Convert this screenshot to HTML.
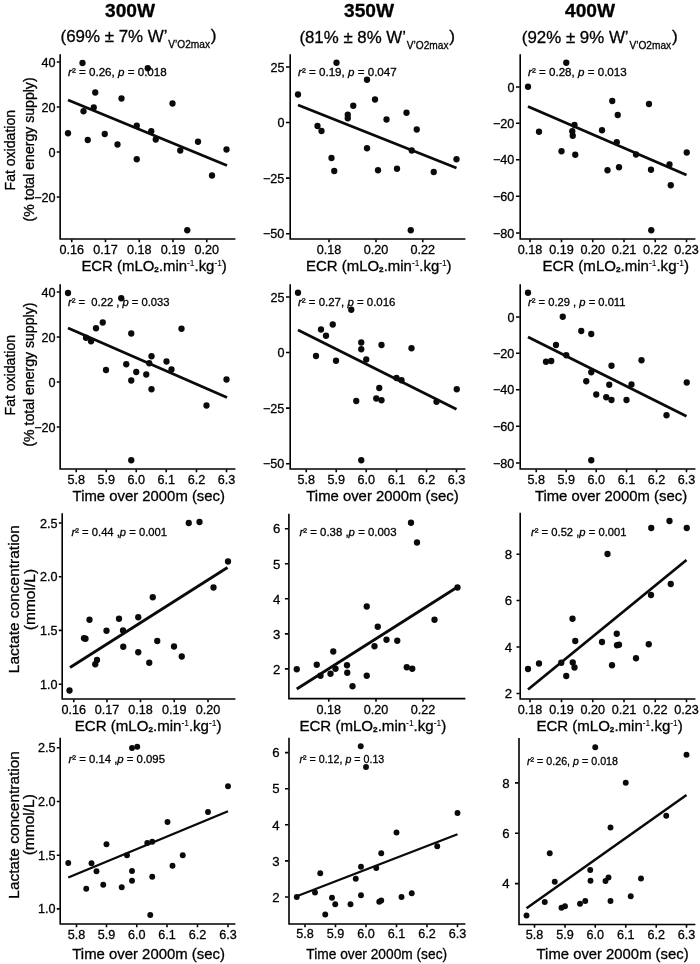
<!DOCTYPE html>
<html lang="en">
<head>
<meta charset="utf-8">
<title>Figure</title>
<style>
html,body{margin:0;padding:0;background:#fff;}
svg{display:block;filter:grayscale(1);}
text{font-family:"Liberation Sans", Arial, sans-serif;fill:#000;stroke:#000;stroke-width:0.3px;}
.tk{font-size:12.6px;}
.an{font-size:11.7px;}
.xl{font-size:14.7px;}
.ax{stroke:#000;stroke-width:1.6;fill:none;stroke-linecap:square;}
.t{stroke:#000;stroke-width:1.6;fill:none;}
.rl{stroke:#0a0a0a;fill:none;stroke-linecap:butt;}
circle{fill:#0a0a0a;}
</style>
</head>
<body>
<svg width="700" height="964" viewBox="0 0 700 964">
<rect width="700" height="964" fill="#fff"/>
<g id="headers">
<text x="130" y="16.7" text-anchor="middle" font-size="18" font-weight="bold" textLength="50" lengthAdjust="spacingAndGlyphs">300W</text>
<text x="60.5" y="42.0" font-size="17.3" textLength="107.0" lengthAdjust="spacingAndGlyphs">(69% ± 7% W’</text>
<text x="168.3" y="47.6" font-size="10.8" textLength="41.7" lengthAdjust="spacingAndGlyphs">V’O2max</text>
<text x="210.8" y="41.3" font-size="17.3">)</text>
<text x="369" y="17.3" text-anchor="middle" font-size="18" font-weight="bold" textLength="50" lengthAdjust="spacingAndGlyphs">350W</text>
<text x="299.4" y="43.1" font-size="17.3" textLength="106.6" lengthAdjust="spacingAndGlyphs">(81% ± 8% W’</text>
<text x="406.8" y="48.7" font-size="10.8" textLength="41.7" lengthAdjust="spacingAndGlyphs">V’O2max</text>
<text x="449.3" y="42.4" font-size="17.3">)</text>
<text x="590" y="17.2" text-anchor="middle" font-size="18" font-weight="bold" textLength="50" lengthAdjust="spacingAndGlyphs">400W</text>
<text x="521.8" y="42.9" font-size="17.3" textLength="106.8" lengthAdjust="spacingAndGlyphs">(92% ± 9% W’</text>
<text x="629.4" y="48.5" font-size="10.8" textLength="41.7" lengthAdjust="spacingAndGlyphs">V’O2max</text>
<text x="671.9" y="42.2" font-size="17.3">)</text>
</g>
<g id="ylabels">
<text transform="translate(15 150.2) rotate(-90)" text-anchor="middle" font-size="14.6" textLength="80.5" lengthAdjust="spacingAndGlyphs">Fat oxidation</text>
<text transform="translate(34.3 149.4) rotate(-90)" text-anchor="middle" font-size="14.6" textLength="144" lengthAdjust="spacingAndGlyphs">(% total energy supply)</text>
<text transform="translate(15 375.2) rotate(-90)" text-anchor="middle" font-size="14.6" textLength="80.5" lengthAdjust="spacingAndGlyphs">Fat oxidation</text>
<text transform="translate(34.3 374.6) rotate(-90)" text-anchor="middle" font-size="14.6" textLength="144" lengthAdjust="spacingAndGlyphs">(% total energy supply)</text>
<text transform="translate(19.3 599.2) rotate(-90)" text-anchor="middle" font-size="15.5" textLength="148" lengthAdjust="spacingAndGlyphs">Lactate concentration</text>
<text transform="translate(34.8 599.6) rotate(-90)" text-anchor="middle" font-size="15.5" textLength="61.3" lengthAdjust="spacingAndGlyphs">(mmol/L)</text>
<text transform="translate(18.8 824.9) rotate(-90)" text-anchor="middle" font-size="15.5" textLength="147.5" lengthAdjust="spacingAndGlyphs">Lactate concentration</text>
<text transform="translate(33.8 824.7) rotate(-90)" text-anchor="middle" font-size="15.5" textLength="61.2" lengthAdjust="spacingAndGlyphs">(mmol/L)</text>
</g>
<g id="p1">
<path class="ax" d="M60.15 55.0V239.0H234.6"/>
<path class="t" d="M59.65 62h-2.9000000000000004M59.65 107h-2.9000000000000004M59.65 152h-2.9000000000000004M59.65 197h-2.9000000000000004M71.75 239.5v2.7M105.5 239.5v2.7M139.25 239.5v2.7M173 239.5v2.7M206.75 239.5v2.7"/>
<text class="tk" x="55.6" y="66.5" text-anchor="end">40</text>
<text class="tk" x="55.6" y="111.5" text-anchor="end">20</text>
<text class="tk" x="55.6" y="156.5" text-anchor="end">0</text>
<text class="tk" x="55.6" y="201.5" text-anchor="end">−20</text>
<text class="tk" x="71.75" y="253.7" text-anchor="middle">0.16</text>
<text class="tk" x="105.5" y="253.7" text-anchor="middle">0.17</text>
<text class="tk" x="139.25" y="253.7" text-anchor="middle">0.18</text>
<text class="tk" x="173" y="253.7" text-anchor="middle">0.19</text>
<text class="tk" x="206.75" y="253.7" text-anchor="middle">0.20</text>
<circle cx="68.0" cy="133.25" r="3.15"/>
<circle cx="82.5" cy="63.0" r="3.15"/>
<circle cx="83.5" cy="111.25" r="3.15"/>
<circle cx="87.75" cy="140.0" r="3.15"/>
<circle cx="93.75" cy="107.5" r="3.15"/>
<circle cx="95.25" cy="92.5" r="3.15"/>
<circle cx="104.75" cy="134.0" r="3.15"/>
<circle cx="117.5" cy="144.5" r="3.15"/>
<circle cx="121.5" cy="98.5" r="3.15"/>
<circle cx="136.75" cy="125.75" r="3.15"/>
<circle cx="136.75" cy="159.25" r="3.15"/>
<circle cx="147.75" cy="68.25" r="3.15"/>
<circle cx="151.25" cy="131.25" r="3.15"/>
<circle cx="155.75" cy="139.5" r="3.15"/>
<circle cx="172.5" cy="103.5" r="3.15"/>
<circle cx="180.25" cy="150.5" r="3.15"/>
<circle cx="187.25" cy="230.25" r="3.15"/>
<circle cx="198.0" cy="141.75" r="3.15"/>
<circle cx="212.0" cy="175.5" r="3.15"/>
<circle cx="226.5" cy="149.5" r="3.15"/>
<line class="rl" x1="68" y1="100" x2="227" y2="165.5" stroke-width="2.8"/>
<text class="an" x="68" y="76" textLength="98.75" lengthAdjust="spacingAndGlyphs" xml:space="preserve" style="white-space:pre"><tspan font-style="italic">r</tspan>² = 0.26, <tspan font-style="italic">p</tspan> = 0.018</text>
<text class="xl" x="81.4" y="270.5" textLength="145.4" lengthAdjust="spacingAndGlyphs">ECR (mLO<tspan font-size="8" font-weight="bold" dy="1.2">2</tspan><tspan dy="-1.2">.min</tspan><tspan font-size="8.2" dy="-5" stroke-width="0.1">-1</tspan><tspan dy="5">.kg</tspan><tspan font-size="8.2" dy="-5" stroke-width="0.1">-1</tspan><tspan dy="5">)</tspan></text>
</g>
<g id="p2">
<path class="ax" d="M290.2 55.0V239.0H464.6"/>
<path class="t" d="M289.7 67h-3.7M289.7 122.5h-3.7M289.7 178.1h-3.7M289.7 233.7h-3.7M329 239.5v2.7M376 239.5v2.7M422.75 239.5v2.7"/>
<text class="tk" x="284.4" y="71.5" text-anchor="end">25</text>
<text class="tk" x="284.4" y="127.0" text-anchor="end">0</text>
<text class="tk" x="284.4" y="182.6" text-anchor="end">−25</text>
<text class="tk" x="284.4" y="238.2" text-anchor="end">−50</text>
<text class="tk" x="329" y="253.7" text-anchor="middle">0.18</text>
<text class="tk" x="376" y="253.7" text-anchor="middle">0.20</text>
<text class="tk" x="422.75" y="253.7" text-anchor="middle">0.22</text>
<circle cx="298.0" cy="94.5" r="3.15"/>
<circle cx="317.5" cy="126.0" r="3.15"/>
<circle cx="321.5" cy="131.0" r="3.15"/>
<circle cx="331.5" cy="158.0" r="3.15"/>
<circle cx="334.25" cy="171.0" r="3.15"/>
<circle cx="336.5" cy="62.75" r="3.15"/>
<circle cx="347.75" cy="114.75" r="3.15"/>
<circle cx="347.75" cy="118.25" r="3.15"/>
<circle cx="353.25" cy="105.75" r="3.15"/>
<circle cx="367.0" cy="79.75" r="3.15"/>
<circle cx="367.0" cy="148.25" r="3.15"/>
<circle cx="375.0" cy="99.5" r="3.15"/>
<circle cx="378.0" cy="170.25" r="3.15"/>
<circle cx="386.5" cy="119.5" r="3.15"/>
<circle cx="397.0" cy="168.75" r="3.15"/>
<circle cx="406.5" cy="112.75" r="3.15"/>
<circle cx="410.75" cy="230.25" r="3.15"/>
<circle cx="411.75" cy="150.5" r="3.15"/>
<circle cx="416.75" cy="129.5" r="3.15"/>
<circle cx="433.75" cy="172.0" r="3.15"/>
<circle cx="456.5" cy="159.25" r="3.15"/>
<line class="rl" x1="298" y1="105" x2="456.5" y2="168" stroke-width="2.8"/>
<text class="an" x="298" y="76" textLength="98.75" lengthAdjust="spacingAndGlyphs" xml:space="preserve" style="white-space:pre"><tspan font-style="italic">r</tspan>² = 0.19, <tspan font-style="italic">p</tspan> = 0.047</text>
<text class="xl" x="306.1" y="270.6" textLength="145.5" lengthAdjust="spacingAndGlyphs">ECR (mLO<tspan font-size="8" font-weight="bold" dy="1.2">2</tspan><tspan dy="-1.2">.min</tspan><tspan font-size="8.2" dy="-5" stroke-width="0.1">-1</tspan><tspan dy="5">.kg</tspan><tspan font-size="8.2" dy="-5" stroke-width="0.1">-1</tspan><tspan dy="5">)</tspan></text>
</g>
<g id="p3">
<path class="ax" d="M520.2 55.0V239.0H694.6"/>
<path class="t" d="M519.7 87h-3.7M519.7 123.3h-3.7M519.7 159.8h-3.7M519.7 196.3h-3.7M519.7 233h-3.7M530 239.5v2.7M561.5 239.5v2.7M592.75 239.5v2.7M624 239.5v2.7M655.25 239.5v2.7M686.5 239.5v2.7"/>
<text class="tk" x="514.4" y="91.5" text-anchor="end">0</text>
<text class="tk" x="514.4" y="127.8" text-anchor="end">−20</text>
<text class="tk" x="514.4" y="164.3" text-anchor="end">−40</text>
<text class="tk" x="514.4" y="200.8" text-anchor="end">−60</text>
<text class="tk" x="514.4" y="237.5" text-anchor="end">−80</text>
<text class="tk" x="530" y="253.7" text-anchor="middle">0.18</text>
<text class="tk" x="561.5" y="253.7" text-anchor="middle">0.19</text>
<text class="tk" x="592.75" y="253.7" text-anchor="middle">0.20</text>
<text class="tk" x="624" y="253.7" text-anchor="middle">0.21</text>
<text class="tk" x="655.25" y="253.7" text-anchor="middle">0.22</text>
<text class="tk" x="686.5" y="253.7" text-anchor="middle">0.23</text>
<circle cx="528.0" cy="86.75" r="3.15"/>
<circle cx="539.0" cy="131.75" r="3.15"/>
<circle cx="561.5" cy="151.25" r="3.15"/>
<circle cx="566.25" cy="62.75" r="3.15"/>
<circle cx="572.25" cy="131.25" r="3.15"/>
<circle cx="572.75" cy="135.75" r="3.15"/>
<circle cx="574.5" cy="125.0" r="3.15"/>
<circle cx="575.25" cy="154.75" r="3.15"/>
<circle cx="602.0" cy="130.25" r="3.15"/>
<circle cx="607.5" cy="170.25" r="3.15"/>
<circle cx="612.25" cy="101.0" r="3.15"/>
<circle cx="616.75" cy="142.25" r="3.15"/>
<circle cx="617.75" cy="115.0" r="3.15"/>
<circle cx="619.0" cy="167.25" r="3.15"/>
<circle cx="636.0" cy="154.5" r="3.15"/>
<circle cx="649.0" cy="104.0" r="3.15"/>
<circle cx="651.0" cy="169.75" r="3.15"/>
<circle cx="651.25" cy="230.25" r="3.15"/>
<circle cx="669.5" cy="164.5" r="3.15"/>
<circle cx="670.75" cy="185.25" r="3.15"/>
<circle cx="686.75" cy="152.5" r="3.15"/>
<line class="rl" x1="528" y1="106.5" x2="686.5" y2="175" stroke-width="2.8"/>
<text class="an" x="528" y="76" textLength="98.75" lengthAdjust="spacingAndGlyphs" xml:space="preserve" style="white-space:pre"><tspan font-style="italic">r</tspan>² = 0.28, <tspan font-style="italic">p</tspan> = 0.013</text>
<text class="xl" x="542.4" y="271.0" textLength="146.6" lengthAdjust="spacingAndGlyphs">ECR (mLO<tspan font-size="8" font-weight="bold" dy="1.2">2</tspan><tspan dy="-1.2">.min</tspan><tspan font-size="8.2" dy="-5" stroke-width="0.1">-1</tspan><tspan dy="5">.kg</tspan><tspan font-size="8.2" dy="-5" stroke-width="0.1">-1</tspan><tspan dy="5">)</tspan></text>
</g>
<g id="p4">
<path class="ax" d="M60.15 285.0V469.0H234.6"/>
<path class="t" d="M59.65 292h-2.9000000000000004M59.65 337h-2.9000000000000004M59.65 382h-2.9000000000000004M59.65 427h-2.9000000000000004M76.25 469.5v2.7M106.25 469.5v2.7M136.25 469.5v2.7M166.25 469.5v2.7M196.5 469.5v2.7M226.5 469.5v2.7"/>
<text class="tk" x="55.6" y="296.5" text-anchor="end">40</text>
<text class="tk" x="55.6" y="341.5" text-anchor="end">20</text>
<text class="tk" x="55.6" y="386.5" text-anchor="end">0</text>
<text class="tk" x="55.6" y="431.5" text-anchor="end">−20</text>
<text class="tk" x="76.25" y="483.7" text-anchor="middle">5.8</text>
<text class="tk" x="106.25" y="483.7" text-anchor="middle">5.9</text>
<text class="tk" x="136.25" y="483.7" text-anchor="middle">6.0</text>
<text class="tk" x="166.25" y="483.7" text-anchor="middle">6.1</text>
<text class="tk" x="196.5" y="483.7" text-anchor="middle">6.2</text>
<text class="tk" x="226.5" y="483.7" text-anchor="middle">6.3</text>
<circle cx="68.0" cy="293.0" r="3.15"/>
<circle cx="86.0" cy="337.75" r="3.15"/>
<circle cx="91.0" cy="341.25" r="3.15"/>
<circle cx="96.0" cy="328.25" r="3.15"/>
<circle cx="102.75" cy="322.5" r="3.15"/>
<circle cx="106.0" cy="370.0" r="3.15"/>
<circle cx="121.25" cy="298.25" r="3.15"/>
<circle cx="126.25" cy="364.25" r="3.15"/>
<circle cx="131.25" cy="333.5" r="3.15"/>
<circle cx="131.25" cy="380.5" r="3.15"/>
<circle cx="131.25" cy="460.25" r="3.15"/>
<circle cx="136.25" cy="372.0" r="3.15"/>
<circle cx="146.25" cy="374.5" r="3.15"/>
<circle cx="149.25" cy="363.25" r="3.15"/>
<circle cx="151.5" cy="356.25" r="3.15"/>
<circle cx="151.5" cy="389.25" r="3.15"/>
<circle cx="166.5" cy="361.5" r="3.15"/>
<circle cx="171.5" cy="369.5" r="3.15"/>
<circle cx="181.5" cy="328.75" r="3.15"/>
<circle cx="206.5" cy="405.5" r="3.15"/>
<circle cx="226.5" cy="379.5" r="3.15"/>
<line class="rl" x1="68" y1="328" x2="227" y2="397.5" stroke-width="2.8"/>
<text class="an" x="68" y="306" textLength="101.5" lengthAdjust="spacingAndGlyphs" xml:space="preserve" style="white-space:pre"><tspan font-style="italic">r</tspan>² =  0.22 , <tspan font-style="italic">p</tspan> = 0.033</text>
<text class="xl" x="72.6" y="501.3" textLength="152.4" lengthAdjust="spacingAndGlyphs">Time over 2000m (sec)</text>
</g>
<g id="p5">
<path class="ax" d="M290.2 285.0V469.0H464.6"/>
<path class="t" d="M289.7 297h-3.7M289.7 352.5h-3.7M289.7 408.1h-3.7M289.7 463.7h-3.7M306.25 469.5v2.7M336.25 469.5v2.7M366.25 469.5v2.7M396.5 469.5v2.7M426.5 469.5v2.7M456.5 469.5v2.7"/>
<text class="tk" x="284.4" y="301.5" text-anchor="end">25</text>
<text class="tk" x="284.4" y="357.0" text-anchor="end">0</text>
<text class="tk" x="284.4" y="412.6" text-anchor="end">−25</text>
<text class="tk" x="284.4" y="468.2" text-anchor="end">−50</text>
<text class="tk" x="306.25" y="483.7" text-anchor="middle">5.8</text>
<text class="tk" x="336.25" y="483.7" text-anchor="middle">5.9</text>
<text class="tk" x="366.25" y="483.7" text-anchor="middle">6.0</text>
<text class="tk" x="396.5" y="483.7" text-anchor="middle">6.1</text>
<text class="tk" x="426.5" y="483.7" text-anchor="middle">6.2</text>
<text class="tk" x="456.5" y="483.7" text-anchor="middle">6.3</text>
<circle cx="298.0" cy="292.75" r="3.15"/>
<circle cx="316.0" cy="356.0" r="3.15"/>
<circle cx="321.0" cy="329.5" r="3.15"/>
<circle cx="326.0" cy="335.75" r="3.15"/>
<circle cx="332.75" cy="324.5" r="3.15"/>
<circle cx="336.0" cy="360.75" r="3.15"/>
<circle cx="351.25" cy="309.75" r="3.15"/>
<circle cx="356.25" cy="401.0" r="3.15"/>
<circle cx="361.25" cy="342.5" r="3.15"/>
<circle cx="361.25" cy="349.25" r="3.15"/>
<circle cx="361.25" cy="460.25" r="3.15"/>
<circle cx="366.25" cy="359.5" r="3.15"/>
<circle cx="376.25" cy="398.5" r="3.15"/>
<circle cx="379.25" cy="388.0" r="3.15"/>
<circle cx="381.5" cy="345.0" r="3.15"/>
<circle cx="381.5" cy="400.25" r="3.15"/>
<circle cx="396.5" cy="378.0" r="3.15"/>
<circle cx="401.5" cy="380.25" r="3.15"/>
<circle cx="411.5" cy="348.25" r="3.15"/>
<circle cx="436.5" cy="401.75" r="3.15"/>
<circle cx="456.75" cy="389.25" r="3.15"/>
<line class="rl" x1="298" y1="330" x2="456.5" y2="409.25" stroke-width="2.8"/>
<text class="an" x="298" y="306" textLength="97.5" lengthAdjust="spacingAndGlyphs" xml:space="preserve" style="white-space:pre"><tspan font-style="italic">r</tspan>² = 0.27, <tspan font-style="italic">p</tspan> = 0.016</text>
<text class="xl" x="306.3" y="501.3" textLength="152.3" lengthAdjust="spacingAndGlyphs">Time over 2000m (sec)</text>
</g>
<g id="p6">
<path class="ax" d="M520.2 285.0V469.0H694.6"/>
<path class="t" d="M519.7 317h-3.7M519.7 353.3h-3.7M519.7 389.8h-3.7M519.7 426.3h-3.7M519.7 463h-3.7M536.25 469.5v2.7M566.25 469.5v2.7M596.25 469.5v2.7M626.5 469.5v2.7M656.5 469.5v2.7M686.5 469.5v2.7"/>
<text class="tk" x="514.4" y="321.5" text-anchor="end">0</text>
<text class="tk" x="514.4" y="357.8" text-anchor="end">−20</text>
<text class="tk" x="514.4" y="394.3" text-anchor="end">−40</text>
<text class="tk" x="514.4" y="430.8" text-anchor="end">−60</text>
<text class="tk" x="514.4" y="467.5" text-anchor="end">−80</text>
<text class="tk" x="536.25" y="483.7" text-anchor="middle">5.8</text>
<text class="tk" x="566.25" y="483.7" text-anchor="middle">5.9</text>
<text class="tk" x="596.25" y="483.7" text-anchor="middle">6.0</text>
<text class="tk" x="626.5" y="483.7" text-anchor="middle">6.1</text>
<text class="tk" x="656.5" y="483.7" text-anchor="middle">6.2</text>
<text class="tk" x="686.5" y="483.7" text-anchor="middle">6.3</text>
<circle cx="528.0" cy="292.75" r="3.15"/>
<circle cx="546.0" cy="361.75" r="3.15"/>
<circle cx="551.25" cy="361.0" r="3.15"/>
<circle cx="556.0" cy="345.0" r="3.15"/>
<circle cx="562.75" cy="316.75" r="3.15"/>
<circle cx="566.25" cy="355.25" r="3.15"/>
<circle cx="581.25" cy="331.0" r="3.15"/>
<circle cx="586.25" cy="381.25" r="3.15"/>
<circle cx="591.25" cy="334.0" r="3.15"/>
<circle cx="591.25" cy="372.25" r="3.15"/>
<circle cx="591.25" cy="460.25" r="3.15"/>
<circle cx="596.25" cy="394.5" r="3.15"/>
<circle cx="606.25" cy="397.25" r="3.15"/>
<circle cx="609.25" cy="384.75" r="3.15"/>
<circle cx="611.5" cy="365.75" r="3.15"/>
<circle cx="611.5" cy="400.0" r="3.15"/>
<circle cx="626.5" cy="400.0" r="3.15"/>
<circle cx="631.5" cy="384.5" r="3.15"/>
<circle cx="641.5" cy="360.25" r="3.15"/>
<circle cx="666.5" cy="415.25" r="3.15"/>
<circle cx="686.75" cy="382.5" r="3.15"/>
<line class="rl" x1="528" y1="337" x2="686.5" y2="416.25" stroke-width="2.8"/>
<text class="an" x="528" y="306" textLength="97.5" lengthAdjust="spacingAndGlyphs" xml:space="preserve" style="white-space:pre"><tspan font-style="italic">r</tspan>² = 0.29 , <tspan font-style="italic">p</tspan> = 0.011</text>
<text class="xl" x="534.9" y="501.3" textLength="152.2" lengthAdjust="spacingAndGlyphs">Time over 2000m (sec)</text>
</g>
<g id="p7">
<path class="ax" d="M62.2 514V699.0H234.6"/>
<path class="t" d="M61.7 523h-2.9000000000000004M61.7 576.7h-2.9000000000000004M61.7 630.4h-2.9000000000000004M61.7 684.2h-2.9000000000000004M73.75 699.5v2.7M107 699.5v2.7M140.5 699.5v2.7M174.25 699.5v2.7M208 699.5v2.7"/>
<text class="tk" x="57.4" y="527.5" text-anchor="end">2.5</text>
<text class="tk" x="57.4" y="581.2" text-anchor="end">2.0</text>
<text class="tk" x="57.4" y="634.9" text-anchor="end">1.5</text>
<text class="tk" x="57.4" y="688.7" text-anchor="end">1.0</text>
<text class="tk" x="73.75" y="713.7" text-anchor="middle">0.16</text>
<text class="tk" x="107" y="713.7" text-anchor="middle">0.17</text>
<text class="tk" x="140.5" y="713.7" text-anchor="middle">0.18</text>
<text class="tk" x="174.25" y="713.7" text-anchor="middle">0.19</text>
<text class="tk" x="208" y="713.7" text-anchor="middle">0.20</text>
<circle cx="69.5" cy="690.5" r="3.15"/>
<circle cx="84.0" cy="638.25" r="3.15"/>
<circle cx="85.5" cy="638.75" r="3.15"/>
<circle cx="89.5" cy="619.75" r="3.15"/>
<circle cx="95.25" cy="664.25" r="3.15"/>
<circle cx="97.0" cy="660.0" r="3.15"/>
<circle cx="106.5" cy="630.75" r="3.15"/>
<circle cx="119.0" cy="618.75" r="3.15"/>
<circle cx="123.0" cy="630.5" r="3.15"/>
<circle cx="123.25" cy="646.75" r="3.15"/>
<circle cx="138.25" cy="617.25" r="3.15"/>
<circle cx="138.25" cy="652.25" r="3.15"/>
<circle cx="149.25" cy="662.75" r="3.15"/>
<circle cx="152.75" cy="597.25" r="3.15"/>
<circle cx="157.25" cy="641.0" r="3.15"/>
<circle cx="174.0" cy="646.5" r="3.15"/>
<circle cx="181.75" cy="656.5" r="3.15"/>
<circle cx="188.75" cy="523.0" r="3.15"/>
<circle cx="199.5" cy="522.0" r="3.15"/>
<circle cx="213.5" cy="587.5" r="3.15"/>
<circle cx="228.0" cy="561.5" r="3.15"/>
<line class="rl" x1="70" y1="667.5" x2="227.5" y2="567.5" stroke-width="2.8"/>
<text class="an" x="71.5" y="536" textLength="95.5" lengthAdjust="spacingAndGlyphs" xml:space="preserve" style="white-space:pre"><tspan font-style="italic">r</tspan>² = 0.44 ,<tspan font-style="italic">p</tspan> = 0.001</text>
<text class="xl" x="74.8" y="730.6" textLength="146.7" lengthAdjust="spacingAndGlyphs">ECR (mLO<tspan font-size="8" font-weight="bold" dy="1.2">2</tspan><tspan dy="-1.2">.min</tspan><tspan font-size="8.2" dy="-5" stroke-width="0.1">-1</tspan><tspan dy="5">.kg</tspan><tspan font-size="8.2" dy="-5" stroke-width="0.1">-1</tspan><tspan dy="5">)</tspan></text>
</g>
<g id="p8">
<path class="ax" d="M288.9 514.5V698.6H464.6"/>
<path class="t" d="M288.4 528.7h-3.5M288.4 563.8h-3.5M288.4 598.8h-3.5M288.4 633.9h-3.5M288.4 668.9h-3.5M328.75 699.1v2.7M376 699.1v2.7M423 699.1v2.7"/>
<text class="tk" style="font-size:13.2px" x="280.4" y="533.4" text-anchor="end">6</text>
<text class="tk" style="font-size:13.2px" x="280.4" y="568.5" text-anchor="end">5</text>
<text class="tk" style="font-size:13.2px" x="280.4" y="603.5" text-anchor="end">4</text>
<text class="tk" style="font-size:13.2px" x="280.4" y="638.6" text-anchor="end">3</text>
<text class="tk" style="font-size:13.2px" x="280.4" y="673.6" text-anchor="end">2</text>
<text class="tk" x="328.75" y="713.9" text-anchor="middle">0.18</text>
<text class="tk" x="376" y="713.9" text-anchor="middle">0.20</text>
<text class="tk" x="423" y="713.9" text-anchor="middle">0.22</text>
<circle cx="296.75" cy="669.25" r="3.15"/>
<circle cx="316.75" cy="664.75" r="3.15"/>
<circle cx="320.5" cy="675.75" r="3.15"/>
<circle cx="330.5" cy="673.75" r="3.15"/>
<circle cx="333.25" cy="651.5" r="3.15"/>
<circle cx="335.5" cy="668.75" r="3.15"/>
<circle cx="347.0" cy="665.25" r="3.15"/>
<circle cx="347.25" cy="672.75" r="3.15"/>
<circle cx="352.5" cy="686.25" r="3.15"/>
<circle cx="366.75" cy="606.5" r="3.15"/>
<circle cx="366.75" cy="675.75" r="3.15"/>
<circle cx="374.5" cy="646.25" r="3.15"/>
<circle cx="377.75" cy="626.75" r="3.15"/>
<circle cx="386.5" cy="639.75" r="3.15"/>
<circle cx="397.25" cy="640.75" r="3.15"/>
<circle cx="406.75" cy="667.25" r="3.15"/>
<circle cx="411.0" cy="522.75" r="3.15"/>
<circle cx="412.25" cy="668.75" r="3.15"/>
<circle cx="417.0" cy="542.5" r="3.15"/>
<circle cx="434.5" cy="619.75" r="3.15"/>
<circle cx="457.5" cy="587.5" r="3.15"/>
<line class="rl" x1="296.75" y1="689" x2="457.5" y2="587" stroke-width="2.8"/>
<text class="an" x="299.5" y="536" textLength="97" lengthAdjust="spacingAndGlyphs" xml:space="preserve" style="white-space:pre"><tspan font-style="italic">r</tspan>² = 0.38 ,<tspan font-style="italic">p</tspan> = 0.003</text>
<text class="xl" x="299.4" y="730.8" textLength="146.8" lengthAdjust="spacingAndGlyphs">ECR (mLO<tspan font-size="8" font-weight="bold" dy="1.2">2</tspan><tspan dy="-1.2">.min</tspan><tspan font-size="8.2" dy="-5" stroke-width="0.1">-1</tspan><tspan dy="5">.kg</tspan><tspan font-size="8.2" dy="-5" stroke-width="0.1">-1</tspan><tspan dy="5">)</tspan></text>
</g>
<g id="p9">
<path class="ax" d="M520.2 513.5V699.0H694.6"/>
<path class="t" d="M519.7 554.2h-3.2M519.7 600.5h-3.2M519.7 647h-3.2M519.7 693.5h-3.2M530 699.5v2.7M561.5 699.5v2.7M592.75 699.5v2.7M624 699.5v2.7M655.25 699.5v2.7M686.5 699.5v2.7"/>
<text class="tk" style="font-size:13.2px" x="512.0" y="558.9" text-anchor="end">8</text>
<text class="tk" style="font-size:13.2px" x="512.0" y="605.2" text-anchor="end">6</text>
<text class="tk" style="font-size:13.2px" x="512.0" y="651.7" text-anchor="end">4</text>
<text class="tk" style="font-size:13.2px" x="512.0" y="698.2" text-anchor="end">2</text>
<text class="tk" x="530" y="713.7" text-anchor="middle">0.18</text>
<text class="tk" x="561.5" y="713.7" text-anchor="middle">0.19</text>
<text class="tk" x="592.75" y="713.7" text-anchor="middle">0.20</text>
<text class="tk" x="624" y="713.7" text-anchor="middle">0.21</text>
<text class="tk" x="655.25" y="713.7" text-anchor="middle">0.22</text>
<text class="tk" x="686.5" y="713.7" text-anchor="middle">0.23</text>
<circle cx="528.0" cy="669.0" r="3.15"/>
<circle cx="539.0" cy="663.5" r="3.15"/>
<circle cx="561.25" cy="662.75" r="3.15"/>
<circle cx="566.25" cy="676.0" r="3.15"/>
<circle cx="572.5" cy="618.75" r="3.15"/>
<circle cx="572.75" cy="662.5" r="3.15"/>
<circle cx="574.5" cy="667.5" r="3.15"/>
<circle cx="575.25" cy="641.0" r="3.15"/>
<circle cx="602.0" cy="642.0" r="3.15"/>
<circle cx="607.5" cy="554.0" r="3.15"/>
<circle cx="612.0" cy="665.25" r="3.15"/>
<circle cx="616.75" cy="633.75" r="3.15"/>
<circle cx="617.0" cy="645.25" r="3.15"/>
<circle cx="619.0" cy="644.75" r="3.15"/>
<circle cx="636.0" cy="658.25" r="3.15"/>
<circle cx="648.75" cy="644.25" r="3.15"/>
<circle cx="651.0" cy="595.0" r="3.15"/>
<circle cx="651.25" cy="528.0" r="3.15"/>
<circle cx="669.5" cy="521.0" r="3.15"/>
<circle cx="670.75" cy="584.0" r="3.15"/>
<circle cx="686.75" cy="528.0" r="3.15"/>
<line class="rl" x1="528" y1="689.5" x2="686.5" y2="560" stroke-width="2.8"/>
<text class="an" x="531" y="536" textLength="95.5" lengthAdjust="spacingAndGlyphs" xml:space="preserve" style="white-space:pre"><tspan font-style="italic">r</tspan>² = 0.52 ,<tspan font-style="italic">p</tspan> = 0.001</text>
<text class="xl" x="536.4" y="730.7" textLength="146.4" lengthAdjust="spacingAndGlyphs">ECR (mLO<tspan font-size="8" font-weight="bold" dy="1.2">2</tspan><tspan dy="-1.2">.min</tspan><tspan font-size="8.2" dy="-5" stroke-width="0.1">-1</tspan><tspan dy="5">.kg</tspan><tspan font-size="8.2" dy="-5" stroke-width="0.1">-1</tspan><tspan dy="5">)</tspan></text>
</g>
<g id="p10">
<path class="ax" d="M60.2 738.5V924.0H234.6"/>
<path class="t" d="M59.7 747.8h-2.9000000000000004M59.7 801.5h-2.9000000000000004M59.7 855.2h-2.9000000000000004M59.7 908.9h-2.9000000000000004M76.5 924.5v2.7M106.5 924.5v2.7M136.75 924.5v2.7M167 924.5v2.7M197.5 924.5v2.7M228 924.5v2.7"/>
<text class="tk" x="55.5" y="752.3" text-anchor="end">2.5</text>
<text class="tk" x="55.5" y="806.0" text-anchor="end">2.0</text>
<text class="tk" x="55.5" y="859.7" text-anchor="end">1.5</text>
<text class="tk" x="55.5" y="913.4" text-anchor="end">1.0</text>
<text class="tk" x="76.5" y="938.7" text-anchor="middle">5.8</text>
<text class="tk" x="106.5" y="938.7" text-anchor="middle">5.9</text>
<text class="tk" x="136.75" y="938.7" text-anchor="middle">6.0</text>
<text class="tk" x="167" y="938.7" text-anchor="middle">6.1</text>
<text class="tk" x="197.5" y="938.7" text-anchor="middle">6.2</text>
<text class="tk" x="228" y="938.7" text-anchor="middle">6.3</text>
<circle cx="68.25" cy="863.0" r="2.95"/>
<circle cx="86.25" cy="888.75" r="2.95"/>
<circle cx="91.5" cy="863.25" r="2.95"/>
<circle cx="96.5" cy="871.25" r="2.95"/>
<circle cx="103.25" cy="884.75" r="2.95"/>
<circle cx="106.5" cy="844.25" r="2.95"/>
<circle cx="121.75" cy="887.25" r="2.95"/>
<circle cx="127.0" cy="855.25" r="2.95"/>
<circle cx="132.0" cy="748.0" r="2.95"/>
<circle cx="132.0" cy="871.0" r="2.95"/>
<circle cx="132.0" cy="880.75" r="2.95"/>
<circle cx="137.25" cy="746.75" r="2.95"/>
<circle cx="147.25" cy="843.0" r="2.95"/>
<circle cx="150.25" cy="915.0" r="2.95"/>
<circle cx="152.25" cy="841.75" r="2.95"/>
<circle cx="152.25" cy="876.75" r="2.95"/>
<circle cx="167.5" cy="822.0" r="2.95"/>
<circle cx="172.5" cy="865.75" r="2.95"/>
<circle cx="182.75" cy="855.25" r="2.95"/>
<circle cx="208.0" cy="812.0" r="2.95"/>
<circle cx="228.0" cy="786.25" r="2.95"/>
<line class="rl" x1="68.25" y1="877.5" x2="228" y2="811.25" stroke-width="2.4"/>
<text class="an" x="68.5" y="763" textLength="96.5" lengthAdjust="spacingAndGlyphs" xml:space="preserve" style="white-space:pre"><tspan font-style="italic">r</tspan>² = 0.14 ,<tspan font-style="italic">p</tspan> = 0.095</text>
<text class="xl" x="72.3" y="958.9" textLength="152.6" lengthAdjust="spacingAndGlyphs">Time over 2000m (sec)</text>
</g>
<g id="p11">
<path class="ax" d="M289.0 738.5V924.0H464.6"/>
<path class="t" d="M288.5 752.6h-3.5M288.5 788.7h-3.5M288.5 824.8h-3.5M288.5 860.9h-3.5M288.5 897h-3.5M305 924.5v2.7M335.5 924.5v2.7M366 924.5v2.7M396.5 924.5v2.7M427 924.5v2.7M457.5 924.5v2.7"/>
<text class="tk" style="font-size:13.2px" x="279.5" y="757.3" text-anchor="end">6</text>
<text class="tk" style="font-size:13.2px" x="279.5" y="793.4" text-anchor="end">5</text>
<text class="tk" style="font-size:13.2px" x="279.5" y="829.5" text-anchor="end">4</text>
<text class="tk" style="font-size:13.2px" x="279.5" y="865.6" text-anchor="end">3</text>
<text class="tk" style="font-size:13.2px" x="279.5" y="901.7" text-anchor="end">2</text>
<text class="tk" x="305" y="938.2" text-anchor="middle">5.8</text>
<text class="tk" x="335.5" y="938.2" text-anchor="middle">5.9</text>
<text class="tk" x="366" y="938.2" text-anchor="middle">6.0</text>
<text class="tk" x="396.5" y="938.2" text-anchor="middle">6.1</text>
<text class="tk" x="427" y="938.2" text-anchor="middle">6.2</text>
<text class="tk" x="457.5" y="938.2" text-anchor="middle">6.3</text>
<circle cx="296.75" cy="897.0" r="2.95"/>
<circle cx="315.0" cy="892.5" r="2.95"/>
<circle cx="320.25" cy="873.25" r="2.95"/>
<circle cx="325.25" cy="914.5" r="2.95"/>
<circle cx="332.0" cy="897.75" r="2.95"/>
<circle cx="335.25" cy="904.25" r="2.95"/>
<circle cx="350.5" cy="904.25" r="2.95"/>
<circle cx="355.75" cy="878.75" r="2.95"/>
<circle cx="360.75" cy="746.25" r="2.95"/>
<circle cx="361.0" cy="866.75" r="2.95"/>
<circle cx="361.0" cy="895.25" r="2.95"/>
<circle cx="366.0" cy="767.0" r="2.95"/>
<circle cx="376.25" cy="868.0" r="2.95"/>
<circle cx="379.25" cy="901.75" r="2.95"/>
<circle cx="381.25" cy="900.5" r="2.95"/>
<circle cx="381.25" cy="853.25" r="2.95"/>
<circle cx="396.5" cy="832.5" r="2.95"/>
<circle cx="401.5" cy="897.0" r="2.95"/>
<circle cx="411.75" cy="893.25" r="2.95"/>
<circle cx="437.25" cy="846.25" r="2.95"/>
<circle cx="457.5" cy="813.0" r="2.95"/>
<line class="rl" x1="296.75" y1="896.25" x2="457.5" y2="834.25" stroke-width="2.3"/>
<text class="an" x="299.5" y="762.5" textLength="84.75" lengthAdjust="spacingAndGlyphs" xml:space="preserve" style="white-space:pre"><tspan font-style="italic">r</tspan>² = 0.12, <tspan font-style="italic">p</tspan> = 0.13</text>
<text class="xl" x="306.3" y="958.7" textLength="140.8" lengthAdjust="spacingAndGlyphs">Time over 2000m (sec)</text>
</g>
<g id="p12">
<path class="ax" d="M519.0 738.8V924.5H694.6"/>
<path class="t" d="M518.5 782.9h-3.5M518.5 833.3h-3.5M518.5 883.6h-3.5M534.5 925.0v2.7M565 925.0v2.7M595.25 925.0v2.7M625.75 925.0v2.7M656.25 925.0v2.7M686.5 925.0v2.7"/>
<text class="tk" style="font-size:13.2px" x="509.5" y="787.6" text-anchor="end">8</text>
<text class="tk" style="font-size:13.2px" x="509.5" y="838.0" text-anchor="end">6</text>
<text class="tk" style="font-size:13.2px" x="509.5" y="888.3" text-anchor="end">4</text>
<text class="tk" x="534.5" y="938.5" text-anchor="middle">5.8</text>
<text class="tk" x="565" y="938.5" text-anchor="middle">5.9</text>
<text class="tk" x="595.25" y="938.5" text-anchor="middle">6.0</text>
<text class="tk" x="625.75" y="938.5" text-anchor="middle">6.1</text>
<text class="tk" x="656.25" y="938.5" text-anchor="middle">6.2</text>
<text class="tk" x="686.5" y="938.5" text-anchor="middle">6.3</text>
<circle cx="526.5" cy="915.5" r="2.95"/>
<circle cx="544.75" cy="902.0" r="2.95"/>
<circle cx="549.75" cy="853.25" r="2.95"/>
<circle cx="554.75" cy="881.75" r="2.95"/>
<circle cx="561.5" cy="907.75" r="2.95"/>
<circle cx="565.0" cy="906.25" r="2.95"/>
<circle cx="580.0" cy="903.75" r="2.95"/>
<circle cx="585.25" cy="901.0" r="2.95"/>
<circle cx="590.25" cy="870.0" r="2.95"/>
<circle cx="590.5" cy="880.75" r="2.95"/>
<circle cx="595.25" cy="747.25" r="2.95"/>
<circle cx="605.5" cy="881.0" r="2.95"/>
<circle cx="608.5" cy="877.5" r="2.95"/>
<circle cx="610.5" cy="827.5" r="2.95"/>
<circle cx="610.5" cy="901.0" r="2.95"/>
<circle cx="625.75" cy="782.75" r="2.95"/>
<circle cx="630.75" cy="896.25" r="2.95"/>
<circle cx="641.0" cy="878.5" r="2.95"/>
<circle cx="666.25" cy="815.75" r="2.95"/>
<circle cx="686.5" cy="754.75" r="2.95"/>
<line class="rl" x1="526.5" y1="908.25" x2="686.5" y2="795" stroke-width="2.5"/>
<text class="an" x="527" y="764.5" textLength="91" lengthAdjust="spacingAndGlyphs" xml:space="preserve" style="white-space:pre"><tspan font-style="italic">r</tspan>² = 0.26, <tspan font-style="italic">p</tspan> = 0.018</text>
<text class="xl" x="536.6" y="958.7" textLength="152.0" lengthAdjust="spacingAndGlyphs">Time over 2000m (sec)</text>
</g>
</svg>
</body>
</html>
